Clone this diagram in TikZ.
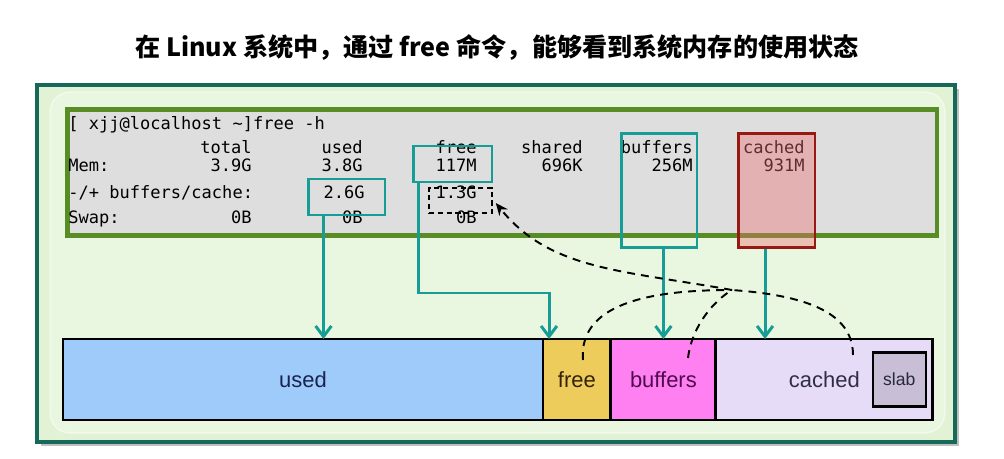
\documentclass[tikz,border=0pt]{standalone}
\usepackage{fontspec}
\setmainfont{Liberation Sans}
\setmonofont{DejaVu Sans Mono}
\newfontfamily\cjk{Noto Sans CJK SC}
\usetikzlibrary{positioning,arrows.meta}

\definecolor{framec}{RGB}{22,105,90}
\definecolor{bgc}{RGB}{226,242,212}
\definecolor{bginc}{RGB}{234,247,224}
\definecolor{termc}{RGB}{222,222,222}
\definecolor{termedge}{RGB}{88,140,36}
\definecolor{tealc}{RGB}{24,156,150}
\definecolor{redc}{RGB}{150,25,20}
\definecolor{pinkc}{RGB}{235,110,110}
\definecolor{usedc}{RGB}{158,203,250}
\definecolor{freec}{RGB}{238,204,92}
\definecolor{bufc}{RGB}{255,128,240}
\definecolor{cachc}{RGB}{230,220,248}
\definecolor{slabc}{RGB}{200,190,214}

\begin{document}
\begin{tikzpicture}
[x=0.02cm, y=-0.02cm,
  mono/.style={font=\ttfamily\fontsize{9.7}{11}\selectfont, inner sep=0pt},
  hibox/.style={draw=tealc, line width=1.7pt, inner sep=0pt},
  seg/.style={draw=black, line width=1.6pt, minimum height=1.62cm,
    inner sep=0pt, outer sep=0pt, font=\fontsize{12.5}{14}\selectfont},
  tarrow/.style={draw=tealc, line width=1.7pt,
    -{Straight Barb[length=6pt,width=9pt]}},
  dline/.style={draw=black, line width=1.1pt, dash pattern=on 4.5pt off 3.5pt}]
\useasboundingbox (0,0) rectangle (1004,459);
%% title
\node[font=\cjk\bfseries\fontsize{14.3}{16}\selectfont] (title) at (497,47)
  {在 Linux 系统中，通过 free 命令，能够看到系统内存的使用状态};
%% frame
\fill[black!25] (41,89) rectangle (959,446);
\draw[framec, line width=2.3pt, fill=bgc] (37,85) rectangle (955,442);
\draw[white, draw opacity=0.5, line width=0.8pt, fill=bginc, rounded corners=0.4cm]
  (50,92) rectangle (945,433);
%% terminal
\node[draw=termedge, fill=termc, line width=2.6pt, inner sep=0pt,
  minimum width=17.4cm, minimum height=2.52cm, anchor=north west]
  (term) at (65,107) {};
\foreach \name/\txt/\y in {prompt/{[ xjj@localhost \textasciitilde]free -h}/130,
  lmem/Mem:/172, lbc/{-/+ buffers/cache:}/199, lswap/Swap:/224}
{
  \node[mono, anchor=base west] (\name) at (68,\y) {\txt};
}
\foreach \name/\txt/\x/\y in {htot/total/252/154, hused/used/363/154,
  hfree/free/477/154, hshr/shared/583/154, hbuf/buffers/693/154,
  hcach/cached/805/154,
  mtot/3.9G/252/172, mused/3.8G/363/172, mfree/117M/477/172,
  mshr/696K/583/172, mbuf/256M/693/172, mcach/931M/805/172,
  cused/2.6G/365/199, cfree/1.3G/477/199,
  stot/0B/252/224, sused/0B/363/224, sfree/0B/477/224}
{
  \node[mono, anchor=base east] (\name) at (\x,\y) {\txt};
}
%% highlight boxes
\node[hibox, minimum width=1.54cm, minimum height=0.72cm] (b26) at (346.5,197) {};
\node[hibox, minimum width=1.58cm, minimum height=0.72cm] (b117) at (452.5,164) {};
\node[draw=black, line width=0.9pt, dash pattern=on 3pt off 2pt, inner sep=0pt,
  minimum width=1.26cm, minimum height=0.5cm] (b13) at (460.5,200.5) {};
\node[hibox, minimum width=1.52cm, minimum height=2.3cm] (bbuf) at (659,190.5) {};
\node[draw=redc, line width=1.7pt, fill=pinkc, fill opacity=0.4, inner sep=0pt,
  minimum width=1.54cm, minimum height=2.3cm] (bcach) at (776.5,190.5) {};
%% memory bar
\node[seg, fill=usedc, text={rgb,255:red,25;green,35;blue,80},
  minimum width=9.6cm, anchor=north west] (used) at (63,339) {used};
\node[seg, fill=freec, text={rgb,255:red,50;green,35;blue,15},
  minimum width=1.36cm, right=0pt of used] (free) {free};
\node[seg, fill=bufc, text={rgb,255:red,80;green,10;blue,80},
  minimum width=2.1cm, right=0pt of free] (buffers) {buffers};
\node[seg, fill=cachc, text={rgb,255:red,50;green,45;blue,70},
  minimum width=4.34cm, right=0pt of buffers] (cached) {cached};
\node[draw=black, line width=1.2pt, fill=slabc, inner sep=0pt,
  minimum width=1.06cm, minimum height=1.08cm, font=\fontsize{10}{12}\selectfont,
  text={rgb,255:red,40;green,40;blue,60}, left=0.12cm of cached.east] (slab) {slab};
%% arrows
\coordinate (ua) at ([xshift=0.34cm]b26.south west);
\coordinate (fa) at ([xshift=0.14cm]b117.south west);
\coordinate (fk) at (549,293);
\coordinate (ca) at ([xshift=-0.23cm]bcach.south);
\draw[tarrow] (ua) -- (ua |- used.north);
\draw[tarrow] (fa) |- (fk) -- (fk |- free.north);
\draw[tarrow] (bbuf.south -| buffers.north) -- (buffers.north);
\draw[tarrow] (ca) -- (ca |- cached.north);
%% dashed links
\coordinate (jn) at (732,290);
\coordinate (fdot) at (583,360);
\coordinate (bdot) at (688,358);
\coordinate (cdot) at (853,355);
\draw[dline, -{Stealth[length=7pt,width=6pt]}] (jn)
  .. controls (620,270) and (550,270) .. ([xshift=0.06cm,yshift=-0.05cm]b13.east);
\draw[dline] (cdot) .. controls (853,310) and (800,295) .. (jn);
\draw[dline] (fdot) .. controls (578,300) and (660,290) .. (jn);
\draw[dline] (bdot) .. controls (692,325) and (715,300) .. (jn);
\end{tikzpicture}
\end{document}
